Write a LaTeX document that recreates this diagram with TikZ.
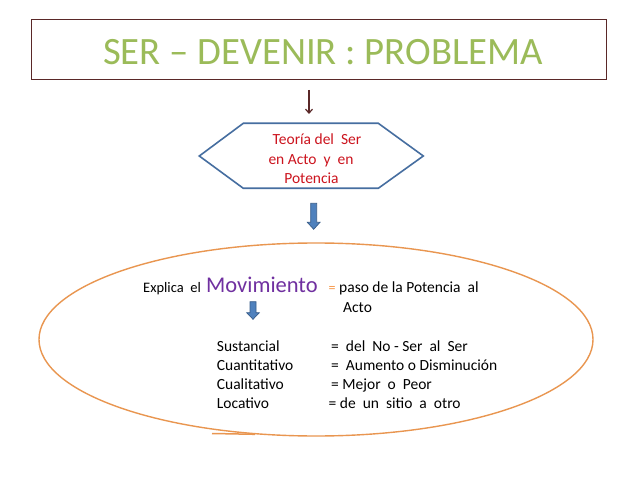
\documentclass[tikz,border=0pt]{standalone}
\usepackage{fontspec}
\setmainfont{Carlito}
\usetikzlibrary{arrows.meta,shapes.geometric}
\definecolor{titlegreen}{RGB}{155,187,89}
\definecolor{boxbrown}{RGB}{90,40,40}
\definecolor{hexblue}{RGB}{70,110,160}
\definecolor{textred}{RGB}{204,20,30}
\definecolor{movpurple}{RGB}{112,48,160}
\definecolor{ellorange}{RGB}{233,150,80}
\definecolor{eqorange}{RGB}{247,150,70}
\definecolor{arrowfill}{RGB}{79,129,189}
\definecolor{arrowline}{RGB}{56,93,138}
\begin{document}
\begin{tikzpicture}[x=1bp,y=-1bp,
  txt/.style={inner sep=0, anchor=base west, font=\fontsize{15.5bp}{19bp}\selectfont},
  redtxt/.style={txt, anchor=base, text=textred},
  blockarrow/.style={fill=arrowfill, draw=arrowline, line width=0.7bp, line join=miter}]
\useasboundingbox (0,0) rectangle (638,479);
\fill[white] (0,0) rectangle (638,479);

% title
\node[draw=boxbrown, line width=1bp, minimum width=575bp, minimum height=59.7bp, inner sep=0] (title) at (319.2,49.2) {};
\node[inner sep=0, anchor=base west, text=titlegreen, font=\fontsize{38.7bp}{40bp}\selectfont] (titletext) at (103,65) {SER – DEVENIR : PROBLEMA};

% thin arrow
\coordinate (a1s) at (309,90);
\coordinate (a1e) at (309,114);
\draw[boxbrown, line width=1.2bp, -{Straight Barb[length=4bp,width=7bp]}] (a1s) -- (a1e);

% hexagon
\draw[hexblue, line width=1.6bp, line join=miter] (199.3,156) -- (243.3,123.3) -- (378.3,123.3) -- (423.3,156) -- (378.3,188.3) -- (243.3,188.3) -- cycle;
\node[redtxt] (h1) at (317,145) {Teoría del\ \ Ser};
\node[redtxt] (h2) at (311,165) {en Acto\ \ y\ \ en};
\node[redtxt] (h3) at (311.5,184) {Potencia};

% block arrow 1
\draw[blockarrow] (310.7,203.3) -- (316.7,203.3) -- (316.7,222.3) -- (320,222.3) -- (313.7,229.3) -- (307.3,222.3) -- (310.7,222.3) -- cycle;

% ellipse
\node[ellipse, draw=ellorange, line width=1.4bp, minimum width=554bp, minimum height=193bp, inner sep=0] (ell) at (316,339.5) {};
\draw[ellorange, line width=1.5bp] (212,433.5) -- (255,434.3);

% first line
\node[txt, font=\fontsize{14.5bp}{17bp}\selectfont] (expl) at (143,292.7) {Explica\ \ el};
\node[txt, text=movpurple, font=\fontsize{22.5bp}{24bp}\selectfont] (mov) at (206,292.7) {Movimiento};
\node[txt, text=eqorange, font=\fontsize{14bp}{16bp}\selectfont] (eq) at (328.5,292.7) {=};
\node[txt] (paso) at (339,292.7) {paso de la Potencia\ \ al};
\node[txt] (acto) at (343,312.5) {Acto};

% block arrow 2
\draw[blockarrow] (250,301.7) -- (256,301.7) -- (256,312.7) -- (259.3,312.7) -- (253,319.3) -- (246.7,312.7) -- (250,312.7) -- cycle;

% table
\node[txt] (l1) at (216.7,351.7) {Sustancial};
\node[txt] (l2) at (216.7,370.7) {Cuantitativo};
\node[txt] (l3) at (216.7,389.3) {Cualitativo};
\node[txt] (l4) at (216.7,408) {Locativo};
\node[txt] (r1) at (331,351.7) {=\ \ del\ \ No - Ser\ \ al\ \ Ser};
\node[txt] (r2) at (331,370.7) {=\ \ Aumento o Disminución};
\node[txt] (r3) at (331,389.3) {= Mejor\ \ o\ \ Peor};
\node[txt] (r4) at (328.5,408) {= de\ \ un\ \ sitio\ \ a\ \ otro};
\end{tikzpicture}
\end{document}
